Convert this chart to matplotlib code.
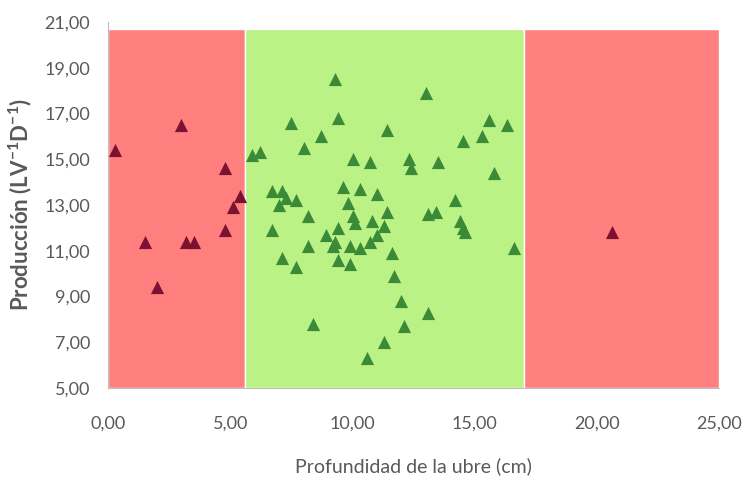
import matplotlib.pyplot as plt

# ───────── data ─────────
out_x = [0.3, 3.0, 4.8, 5.4, 5.1, 4.8, 1.5, 3.2, 3.5, 2.0, 20.6]
out_y = [15.4, 16.5, 14.6, 13.4, 12.9, 11.9, 11.4, 11.4, 11.4, 9.4, 11.8]

in_x = [9.3, 7.5, 9.4, 11.4, 8.7, 8.0, 5.9, 6.2, 10.0, 10.7,
        6.7, 7.1, 7.3, 7.0, 7.7, 9.6, 10.3, 11.0, 9.8, 10.0,
        10.1, 11.4, 10.8, 11.3, 8.2, 6.7, 9.4, 8.9, 9.3, 9.2,
        9.9, 10.3, 10.7, 11.0, 8.2, 11.6, 7.1, 9.4, 9.9, 7.7,
        8.4, 11.3, 10.6,
        13.0, 15.6, 16.3, 14.5, 15.3, 12.3, 12.4, 13.5, 15.8, 14.2,
        13.1, 13.4, 14.4, 14.5, 14.6, 16.6, 11.7, 12.0, 13.1, 12.1]
in_y = [18.5, 16.6, 16.8, 16.3, 16.0, 15.5, 15.2, 15.3, 15.0, 14.9,
        13.6, 13.6, 13.3, 13.0, 13.2, 13.8, 13.7, 13.5, 13.1, 12.5,
        12.2, 12.7, 12.3, 12.1, 12.5, 11.9, 12.0, 11.7, 11.4, 11.2,
        11.2, 11.1, 11.4, 11.7, 11.2, 10.9, 10.7, 10.6, 10.4, 10.3,
        7.8, 7.0, 6.3,
        17.9, 16.7, 16.5, 15.8, 16.0, 15.0, 14.6, 14.9, 14.4, 13.2,
        12.6, 12.7, 12.3, 12.0, 11.8, 11.1, 9.9, 8.8, 8.3, 7.7]

# background zones: start, end of each band
band_start = [0.0, 5.6, 17.0]
band_end = [5.6, 17.0, 25.0]
band_top = 20.7
band_colors = ['#FF7F7F', '#BBF285', '#FF7F7F']

# ───────── plot ─────────
plt.rcParams['font.family'] = ['Lato', 'DejaVu Sans']
plt.rcParams['mathtext.fontset'] = 'custom'
plt.rcParams['mathtext.rm'] = 'Lato'
plt.rcParams['mathtext.bf'] = 'Lato:bold'

fig = plt.figure(figsize=(7.5, 4.79), dpi=100)
ax = fig.add_axes([0.144, 0.19, 0.815, 0.764])

widths = [e - s for s, e in zip(band_start, band_end)]
ax.bar(band_start, [band_top - 5] * 3, width=widths, bottom=5, align='edge',
       color=band_colors, edgecolor='white', linewidth=1, zorder=1)

ax.scatter(out_x, out_y, marker='^', s=90, color='#7C1232', zorder=3, linewidths=0)
ax.scatter(in_x, in_y, marker='^', s=90, color='#3A8A38', zorder=3, linewidths=0)

ax.set_xlim(0, 25)
ax.set_ylim(5, 21)
ax.set_xticks([0, 5, 10, 15, 20, 25])
ax.set_yticks(range(5, 22, 2))
ax.set_xticklabels([f"{v:.2f}".replace('.', ',') for v in ax.get_xticks()])
ax.set_yticklabels([f"{v:.2f}".replace('.', ',') for v in ax.get_yticks()])
ax.tick_params(length=0, labelsize=13, colors='#595959')
ax.tick_params(axis='x', pad=20)
ax.tick_params(axis='y', pad=13)

for s in ('top', 'right'):
    ax.spines[s].set_visible(False)
for s in ('left', 'bottom'):
    ax.spines[s].set_color('#BFBFBF')

ax.set_xlabel("Profundidad de la ubre (cm)", fontsize=14, color='#595959', labelpad=18)
ax.set_ylabel(r"Producción (LV$^{\mathbf{-1}}$D$^{\mathbf{-1}}$)", fontsize=16,
              color='#595959', fontweight='bold', labelpad=7)

fig.savefig("out.png", dpi=100)
